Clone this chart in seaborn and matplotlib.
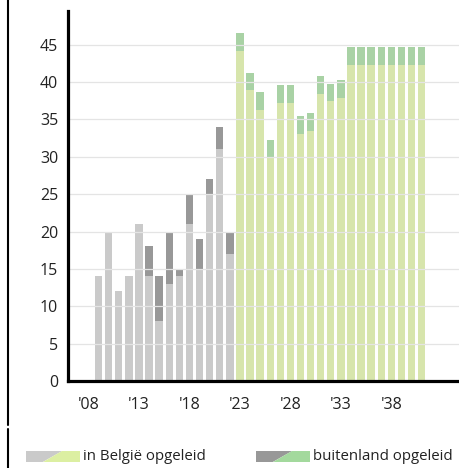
import pandas as pd
import matplotlib.pyplot as plt
import seaborn as sns
from matplotlib.patches import Polygon
from matplotlib.lines import Line2D

# historical (2009-2022) and projected (2023-2041) intake
years_hist = list(range(2009, 2023))
belg_hist = [14, 20, 12, 14, 21, 14, 8, 13, 14, 21, 15, 25, 31, 17]
abroad_hist = [0, 0, 0, 0, 0, 4, 6, 7, 1, 4, 4, 2, 3, 3]

years_proj = list(range(2023, 2042))
belg_proj = [44.2, 38.9, 36.3, 30.0, 37.2, 37.2, 33.1, 33.5, 38.4, 37.5, 37.9,
             42.3, 42.3, 42.3, 42.3, 42.3, 42.3, 42.3, 42.3]
abroad_proj = [2.4, 2.3, 2.4, 2.3, 2.35, 2.35, 2.4, 2.4, 2.4, 2.3, 2.4,
               2.4, 2.4, 2.4, 2.4, 2.4, 2.4, 2.4, 2.4]

tick_years = [2008, 2013, 2018, 2023, 2028, 2033, 2038]
tick_labels = ["'08", "'13", "'18", "'23", "'28", "'33", "'38"]
legend_labels = ['in België opgeleid', 'buitenland opgeleid']

COLORS = {
    'hist': ('#cacaca', '#989898'),
    'proj': ('#dcefa2', '#a3d99d'),
}
FS = 11.5
LEGEND_FS = 10.8

sns.set_style('white')
plt.rcParams['font.family'] = ['Open Sans', 'DejaVu Sans']

df = pd.DataFrame({
    'year': years_hist + years_proj,
    'belg': belg_hist + belg_proj,
    'abroad': abroad_hist + abroad_proj,
    'period': ['hist'] * len(years_hist) + ['proj'] * len(years_proj),
})
df['total'] = df['belg'] + df['abroad']

W, H = 459, 468
fig = plt.figure(figsize=(W / 100, H / 100), dpi=100)
ax = fig.add_axes([68 / W, 1 - 381 / H, 1 - 68 / W, (381 - 11) / H])

common = dict(data=df, x='year', hue='period', native_scale=True, width=0.73,
              dodge=False, errorbar=None, linewidth=0, legend=False, ax=ax)
sns.barplot(y='total', palette={k: v[1] for k, v in COLORS.items()}, **common)
sns.barplot(y='belg', palette={k: v[0] for k, v in COLORS.items()}, **common)

ax.set_xlim(2005.97, 2044.7)
ax.set_ylim(0, 49.5)
ax.set_yticks(range(0, 50, 5))
ax.set_xticks(tick_years)
ax.set_xticklabels(tick_labels)
ax.set_xlabel('')
ax.set_ylabel('')

# light gridlines drawn over the bars
ax.set_axisbelow(False)
for v in range(5, 50, 5):
    ax.axhline(v, color='#e4e4e4', linewidth=0.9, zorder=5)

for s in ['top', 'right']:
    ax.spines[s].set_visible(False)
for s in ['left', 'bottom']:
    ax.spines[s].set_linewidth(2.3)
    ax.spines[s].set_color('black')
    ax.spines[s].set_zorder(6)
ax.tick_params(axis='y', length=0, pad=7, labelsize=FS, labelcolor='#222222')
ax.tick_params(axis='x', length=7, width=2.3, direction='inout', pad=8,
               labelsize=FS, labelcolor='#222222')

# thin frame line on the far left
fig.add_artist(Line2D([7.5 / W] * 2, [1, 1 - 425 / H], transform=fig.transFigure,
                      color='black', linewidth=1.5))
fig.add_artist(Line2D([7.5 / W] * 2, [1 - 429 / H, 0], transform=fig.transFigure,
                      color='black', linewidth=1.5))


def legend_patch(x0, label, c_hist, c_proj):
    # patch with a diagonal split from historical to projected colour
    w, y0, y1 = 54, 451, 462
    xa, xb = x0 + 0.31 * w, x0 + 0.67 * w
    to_fig = lambda x, y: (x / W, 1 - y / H)
    gray = [to_fig(x0, y1), to_fig(xa, y1), to_fig(xb, y0), to_fig(x0, y0)]
    green = [to_fig(xa, y1), to_fig(x0 + w, y1), to_fig(x0 + w, y0), to_fig(xb, y0)]
    fig.add_artist(Polygon(gray, closed=True, transform=fig.transFigure,
                           facecolor=c_hist, edgecolor='none'))
    fig.add_artist(Polygon(green, closed=True, transform=fig.transFigure,
                           facecolor=c_proj, edgecolor='none'))
    fig.text((x0 + w + 3) / W, 1 - 456.5 / H, label, ha='left', va='center',
             fontsize=LEGEND_FS, color='#222222')


legend_patch(26, legend_labels[0], COLORS['hist'][0], COLORS['proj'][0])
legend_patch(256, legend_labels[1], COLORS['hist'][1], COLORS['proj'][1])

fig.savefig('out.png', dpi=100)
